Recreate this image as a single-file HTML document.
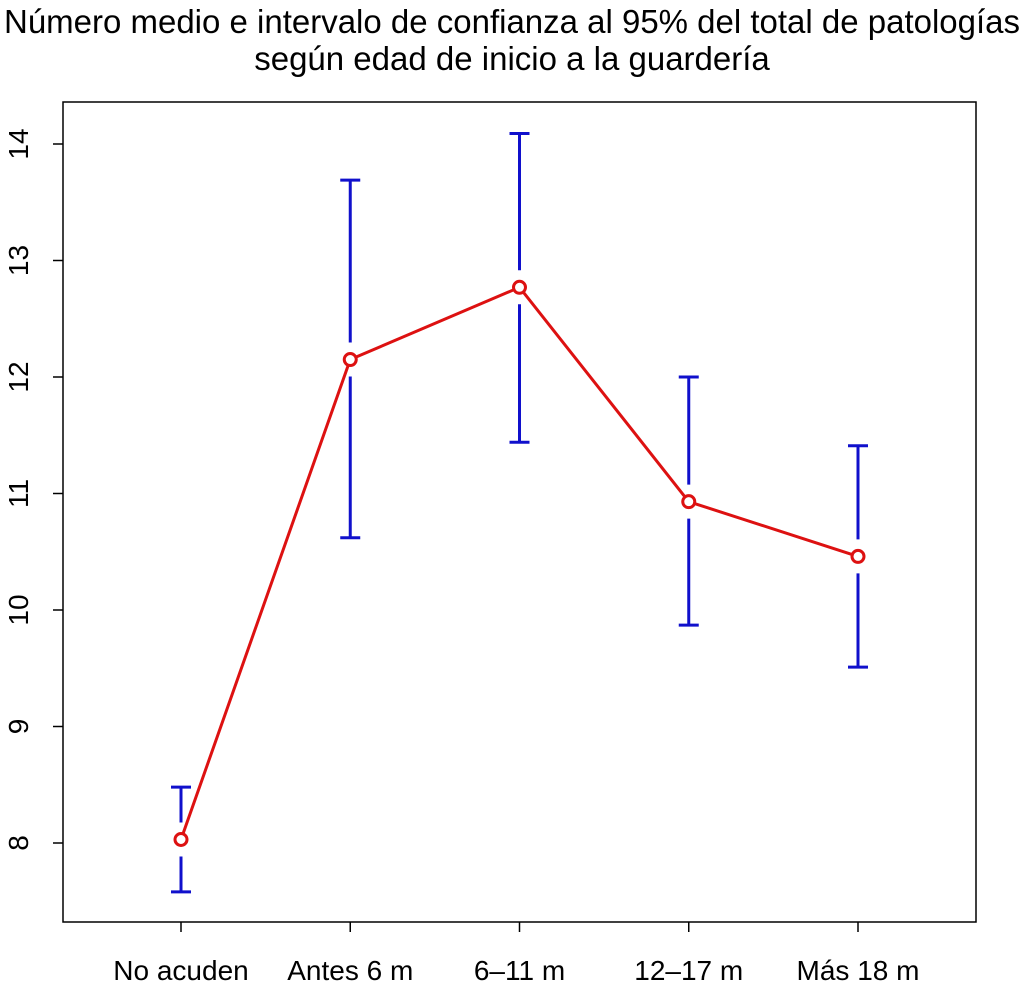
<!DOCTYPE html>
<html><head><meta charset="utf-8"><style>
html,body{margin:0;padding:0;background:#fff;}
svg{display:block;font-family:"Liberation Sans",sans-serif;}
</style></head><body>
<svg id="chart" width="1024" height="986" viewBox="0 0 1024 986">
<text x="512" y="33" font-size="33" text-anchor="middle" textLength="1016" lengthAdjust="spacingAndGlyphs">Número medio e intervalo de confianza al 95% del total de patologías</text>
<text x="512" y="70" font-size="33" text-anchor="middle">según edad de inicio a la guardería</text>
<rect x="63" y="102" width="913" height="820" fill="none" stroke="#000" stroke-width="1.5"/>
<g id="axes"></g>
<g id="bars"></g>
<g id="line"></g>
</svg>
<script>
const categories = ["No acuden","Antes 6 m","6–11 m","12–17 m","Más 18 m"];
const means = [8.03,12.15,12.77,10.93,10.46];
const upper = [8.48,13.69,14.09,12.0,11.41];
const lower = [7.58,10.62,11.44,9.87,9.51];
const yTicks = [8,9,10,11,12,13,14];

const NS="http://www.w3.org/2000/svg";
function y(v){return 843-(v-8)*116.5;}
function x(i){return 181+i*169.25;}
function mk(tag,attrs,parent){const e=document.createElementNS(NS,tag);for(const k in attrs)e.setAttribute(k,attrs[k]);document.getElementById(parent).appendChild(e);return e;}

yTicks.forEach(t=>{
  const l=mk('line',{x1:53,x2:63,y1:y(t),y2:y(t),stroke:'#000','stroke-width':1.5},'axes');
  
  
  const tx=mk('text',{x:0,y:0,'font-size':28,'text-anchor':'middle',transform:`translate(28,${y(t)}) rotate(-90)`},'axes');
  tx.textContent=t;
  
  
});
categories.forEach((c,i)=>{
  const l=mk('line',{x1:x(i),x2:x(i),y1:922,y2:932,stroke:'#000','stroke-width':1.5},'axes');
  
  
  const tx=mk('text',{x:x(i),y:980,'font-size':28,'text-anchor':'middle'},'axes');
  tx.textContent=c;
  
  
});
const col='#1010CC';
categories.forEach((c,i)=>{
  const xm=x(i),yu=y(upper[i]),yl=y(lower[i]),ym=y(means[i]);
  const g=mk('g',{stroke:col,'stroke-width':3,fill:'none'},'bars');
  
  
  const p=document.createElementNS(NS,'path');
  const gap=17;
  let d=`M${xm-10},${yu}H${xm+10}M${xm-10},${yl}H${xm+10}`;
  if(ym-gap>yu) d+=`M${xm},${yu}V${ym-gap}`;
  if(ym+gap<yl) d+=`M${xm},${ym+gap}V${yl}`;
  p.setAttribute('d',d);g.appendChild(p);
});
const pts=means.map((m,i)=>x(i)+','+y(m)).join(' ');
const pl=mk('polyline',{points:pts,fill:'none',stroke:'#DD1111','stroke-width':3},'line');


means.forEach((m,i)=>{
  const c=mk('circle',{cx:x(i),cy:y(m),r:6,fill:'#fff',stroke:'#DD1111','stroke-width':3},'line');
  
  
});
</script>
</body></html>
